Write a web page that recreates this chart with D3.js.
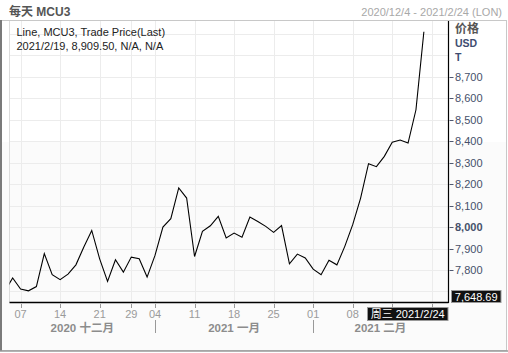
<!DOCTYPE html>
<html><head><meta charset="utf-8">
<script src="https://cdn.jsdelivr.net/npm/d3@7"></script>
<style>
html,body{margin:0;padding:0;background:#fff;}
svg{display:block;font-family:"Liberation Sans",Arial,"Noto Sans CJK SC",sans-serif;}
</style></head><body>
<svg id="c" width="508" height="353"></svg>
<script>
// trading days (LME) shown on the x axis
const tradingDates = [
 "2020-12-03","2020-12-04",
 "2020-12-07","2020-12-08","2020-12-09","2020-12-10","2020-12-11",
 "2020-12-14","2020-12-15","2020-12-16","2020-12-17","2020-12-18",
 "2020-12-21","2020-12-22","2020-12-23","2020-12-24",
 "2020-12-29","2020-12-30","2020-12-31",
 "2021-01-04","2021-01-05","2021-01-06","2021-01-07","2021-01-08",
 "2021-01-11","2021-01-12","2021-01-13","2021-01-14","2021-01-15",
 "2021-01-18","2021-01-19","2021-01-20","2021-01-21","2021-01-22",
 "2021-01-25","2021-01-26","2021-01-27","2021-01-28","2021-01-29",
 "2021-02-01","2021-02-02","2021-02-03","2021-02-04","2021-02-05",
 "2021-02-08","2021-02-09","2021-02-10","2021-02-11","2021-02-12",
 "2021-02-15","2021-02-16","2021-02-17","2021-02-18","2021-02-19",
 "2021-02-22","2021-02-23","2021-02-24"
];
// MCU3 trade price (last), one per trading day up to 2021-02-19
const prices = [
 7700, 7763,
 7711, 7703, 7723, 7876, 7778,
 7755, 7781, 7824, 7907, 7984,
 7852, 7747, 7848, 7790,
 7860, 7852, 7767,
 7868, 8000, 8039, 8182, 8135,
 7863, 7980, 8006, 8050, 7949,
 7972, 7953, 8047, 8026, 8003,
 7975, 8007, 7829, 7874, 7856,
 7804, 7778, 7845, 7824, 7910,
 8011, 8135, 8295, 8281, 8329,
 8395, 8405, 8391, 8546, 8909.5
];
// weekly grid/ticks; the last two labels sit under the cursor date box and are not shown
const xTickDates = ["2020-12-07","2020-12-14","2020-12-21","2020-12-29","2021-01-04","2021-01-11","2021-01-18","2021-01-25","2021-02-01","2021-02-08","2021-02-15","2021-02-22"];
const xTickLabels = ["07","14","21","29","04","11","18","25","01","08","",""];
const months = [
 {label:"2020 十二月", start:"2020-12-03", end:"2021-01-04"},
 {label:"2021 一月", start:"2021-01-04", end:"2021-02-01"},
 {label:"2021 二月", start:"2021-02-01", end:"2021-02-24"}
];
const yGridValues = [7700,7800,7900,8000,8100,8200,8300,8400,8500,8600,8700,8800,8900];
const yTickValues = [7800,7900,8000,8100,8200,8300,8400,8500,8600,8700];
const yDomain = [7648.69, 8956.9];
const title = "每天 MCU3";
const rangeText = "2020/12/4 - 2021/2/24 (LON)";
const legend1 = "Line, MCU3, Trade Price(Last)";
const legend2 = "2021/2/19, 8,909.50, N/A, N/A";
const cursorY = "7,648.69";
const cursorX = "周三 2021/2/24";

const svg = d3.select("#c");
const L = 9.5, R = 448, T = 21, B = 302.5;
const idx = d => tradingDates.indexOf(d);
const x = d3.scaleLinear().domain([0.6, tradingDates.length - 1]).range([L, 447.6]);
const y = d3.scaleLinear().domain(yDomain).range([B, T + 0.5]);
const fmt = d3.format(",");

// backgrounds
svg.append("rect").attr("x",0).attr("y",0).attr("width",508).attr("height",353).attr("fill","#fff");
svg.append("rect").attr("x",2).attr("y",142).attr("width",504).attr("height",208).attr("fill","#fbfbfb");

// frame
svg.append("rect").attr("x",1.5).attr("y",20.5).attr("width",505).attr("height",330)
  .attr("fill","none").attr("stroke","#c8c8c8");
svg.append("line").attr("x1",1).attr("x2",1).attr("y1",20).attr("y2",351).attr("stroke","#7a7a7a").attr("stroke-width",2);
svg.append("line").attr("x1",0).attr("x2",508).attr("y1",351).attr("y2",351).attr("stroke","#9a9a9a").attr("stroke-width",1.5);

// grid
const g = svg.append("g");
g.selectAll(".hg").data(yGridValues).join("line")
  .attr("x1",L).attr("x2",R).attr("y1",d=>Math.round(y(d))+0.5).attr("y2",d=>Math.round(y(d))+0.5)
  .attr("stroke","#ececec");
g.selectAll(".vg").data(xTickDates).join("line")
  .attr("x1",d=>Math.round(x(idx(d)))+0.5).attr("x2",d=>Math.round(x(idx(d)))+0.5)
  .attr("y1",T).attr("y2",B).attr("stroke","#ececec");
svg.append("line").attr("x1",L).attr("x2",L).attr("y1",T).attr("y2",B).attr("stroke","#dcdcdc");

// line
svg.append("clipPath").attr("id","clip").append("rect").attr("x",L).attr("y",T).attr("width",R-L).attr("height",B-T);
const line = d3.line().x((d,i)=>x(i)).y(d=>y(d));
svg.append("path").datum(prices).attr("d",line).attr("fill","none")
  .attr("stroke","#000").attr("stroke-width",1.1).attr("clip-path","url(#clip)");

// axes lines
svg.append("line").attr("x1",L).attr("x2",R+0.5).attr("y1",302.5).attr("y2",302.5).attr("stroke","#000").attr("stroke-width",1.5);
svg.append("line").attr("x1",448.5).attr("x2",448.5).attr("y1",T).attr("y2",303).attr("stroke","#000").attr("stroke-width",1.2);

// right axis
const ya = svg.append("g");
ya.selectAll("line").data(yTickValues).join("line")
  .attr("x1",449.5).attr("x2",453.5).attr("y1",d=>Math.round(y(d))+0.5).attr("y2",d=>Math.round(y(d))+0.5)
  .attr("stroke","#4f5870");
ya.selectAll("text").data(yTickValues).join("text")
  .attr("x",455).attr("y",d=>y(d)+4).attr("font-size",11)
  .attr("font-weight",d=>d===8000?"bold":"normal")
  .attr("fill","#46506a").text(d=>fmt(d));
svg.append("text").attr("x",455).attr("y",33).attr("font-size",12).attr("font-weight","bold")
  .attr("fill","#555").attr("font-family","Noto Sans CJK SC").text("价格");
svg.append("text").attr("x",455).attr("y",47).attr("font-size",10.5).attr("font-weight","bold").attr("fill","#3e4c70").text("USD");
svg.append("text").attr("x",455).attr("y",61).attr("font-size",10.5).attr("font-weight","bold").attr("fill","#3e4c70").text("T");

// bottom axis
const xa = svg.append("g");
xa.selectAll("line").data(xTickDates).join("line")
  .attr("x1",d=>Math.round(x(idx(d)))+0.5).attr("x2",d=>Math.round(x(idx(d)))+0.5)
  .attr("y1",304).attr("y2",308).attr("stroke","#999");
const labelled = xTickDates.map((d,i)=>({d, t:xTickLabels[i]})).filter(o=>o.t);
xa.selectAll("text").data(labelled).join("text")
  .attr("x",o=>x(idx(o.d))).attr("y",318).attr("text-anchor","middle").attr("font-size",11)
  .attr("fill","#9a9a9a").text(o=>o.t);
svg.selectAll(".ms").data(months.slice(1)).join("line")
  .attr("x1",d=>Math.round(x(idx(d.start)))+0.5).attr("x2",d=>Math.round(x(idx(d.start)))+0.5)
  .attr("y1",320).attr("y2",333).attr("stroke","#999");
svg.selectAll(".ml").data(months).join("text")
  .attr("x",d=>(Math.max(L,x(idx(d.start)))+x(idx(d.end)))/2).attr("y",332)
  .attr("text-anchor","middle").attr("font-size",11.5).attr("font-weight","bold")
  .attr("fill","#8c8c8c").attr("font-family","Liberation Sans,Noto Sans CJK SC").text(d=>d.label);

// cursor labels
svg.append("rect").attr("x",451.5).attr("y",290.5).attr("width",49.5).attr("height",12).attr("fill","#111").attr("stroke","#999");
svg.append("text").attr("x",476.2).attr("y",300.5).attr("text-anchor","middle").attr("font-size",11).attr("fill","#fff").text(cursorY);
svg.append("rect").attr("x",367.5).attr("y",307.5).attr("width",80.5).attr("height",13).attr("fill","#111").attr("stroke","#999");
svg.append("text").attr("x",407.7).attr("y",318).attr("text-anchor","middle").attr("font-size",11).attr("fill","#fff")
  .attr("font-family","Liberation Sans,Noto Sans CJK SC").text(cursorX);

// title & legend
svg.append("text").attr("x",9).attr("y",16).attr("font-size",12).attr("font-weight","bold").attr("fill","#555")
  .attr("font-family","Liberation Sans,Noto Sans CJK SC").text(title);
svg.append("text").attr("x",502).attr("y",16).attr("text-anchor","end").attr("font-size",11).attr("fill","#a8a8a8").text(rangeText);
svg.append("text").attr("x",16.5).attr("y",36).attr("font-size",11).attr("fill","#222").text(legend1);
svg.append("text").attr("x",16.5).attr("y",50).attr("font-size",11).attr("fill","#222").text(legend2);
</script></body></html>
